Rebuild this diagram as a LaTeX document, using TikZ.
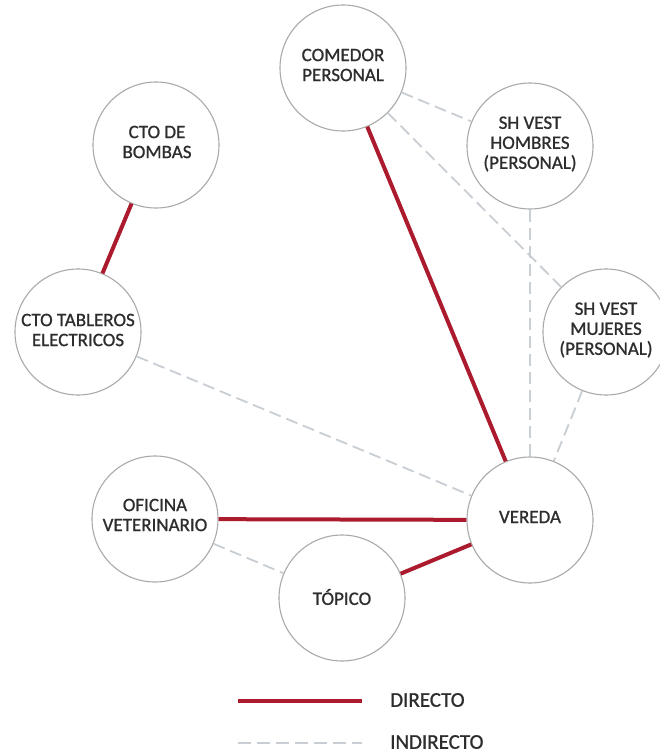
\documentclass[tikz,border=0pt]{standalone}
\usepackage{fontspec}
\setmainfont{Carlito}
\newfontfamily\heavyfont{Carlito}[FakeBold=0.9]
\definecolor{dred}{RGB}{172,26,46}
\definecolor{lgray}{RGB}{200,206,212}
\definecolor{cgray}{RGB}{170,170,170}
\definecolor{tgray}{RGB}{45,45,45}
\begin{document}
\begin{tikzpicture}[x=1pt,y=-1pt,
  circ/.style={circle,draw=cgray,line width=1.1pt,minimum size=126pt,inner sep=0pt},
  txt/.style={text=tgray,font=\heavyfont\fontsize{19}{20}\selectfont,align=center,inner sep=0pt},
  legtxt/.style={text=tgray,font=\heavyfont\fontsize{21}{22}\selectfont,anchor=west,inner sep=0pt},
  direct/.style={draw=dred,line width=4pt},
  indirect/.style={draw=lgray,line width=1.8pt,dash pattern=on 12pt off 6pt}]
\useasboundingbox (0,0) rectangle (659,755);
\fill[white] (0,0) rectangle (659,755);

% circles
\node[circ] (com) at (343,68) {};
\node[circ] (hom) at (530,146) {};
\node[circ] (bom) at (156,145) {};
\node[circ] (tab) at (78,332) {};
\node[circ] (muj) at (606,332) {};
\node[circ] (ofi) at (155,519) {};
\node[circ] (ver) at (530,520) {};
\node[circ] (top) at (342,598) {};

% texts
\node[txt] (com-t) at (343,65) {COMEDOR\\PERSONAL};
\node[txt] (hom-t) at (530,144) {SH VEST\\HOMBRES\\(PERSONAL)};
\node[txt] (bom-t) at (157,142) {CTO DE\\BOMBAS};
\node[txt] (tab-t) at (78,330) {CTO TABLEROS\\ELECTRICOS};
\node[txt] (muj-t) at (606,330) {SH VEST\\MUJERES\\(PERSONAL)};
\node[txt] (ofi-t) at (155,515) {OFICINA\\VETERINARIO};
\node[txt] (ver-t) at (530,517) {VEREDA};
\node[txt] (top-t) at (342,597) {TÓPICO};

% indirect connectors
\draw[indirect] (com) -- (hom);
\draw[indirect] (com) -- (muj);
\draw[indirect] (hom) -- (ver);
\draw[indirect] (muj) -- (ver);
\draw[indirect] (tab) -- (ver);
\draw[indirect] (ofi) -- (top);

% direct connectors
\draw[direct] (bom) -- (tab);
\draw[direct] (com) -- (ver);
\draw[direct] (ofi) -- (ver);
\draw[direct] (top) -- (ver);

% legend
\coordinate (d1) at (238,701);
\coordinate (d2) at (362,701);
\coordinate (i1) at (238,743);
\coordinate (i2) at (362,743);
\draw[direct] (d1) -- (d2);
\draw[indirect,dash pattern=on 13pt off 6pt] (i1) -- (i2);
\node[legtxt] (d-t) at (390,700) {DIRECTO};
\node[legtxt] (i-t) at (390,742) {INDIRECTO};
\end{tikzpicture}
\end{document}
